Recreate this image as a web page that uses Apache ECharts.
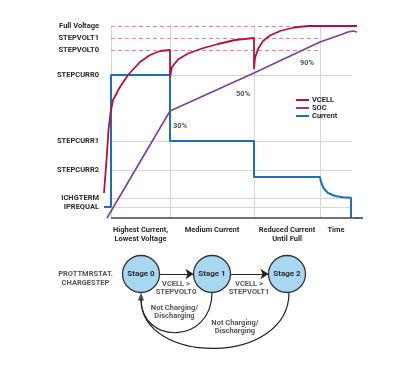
<!DOCTYPE html>
<html><head><meta charset="utf-8">
<script src="https://cdn.jsdelivr.net/npm/echarts@6/dist/echarts.min.js"></script>
<style>html,body{margin:0;padding:0;background:#fff}#c{width:420px;height:370px}</style>
</head><body><div id="c"></div>
<script>
// ---- data ----
const levelNames = ['Full Voltage', 'STEPVOLT1', 'STEPVOLT0', 'STEPCURR0', 'STEPCURR1', 'STEPCURR2', 'ICHGTERM', 'IPREQUAL'];
const levelValues = [192, 180, 168, 143, 77, 48, 20, 11];
const voltageLevels = [192, 180, 168];
const currentLevels = [143, 77, 48, 20, 11];
const phaseNames = ['Highest Current,\nLowest Voltage', 'Medium Current', 'Reduced Current\nUntil Full', 'Time'];
const phaseCenters = [29.5, 101, 176, 225];
const phaseBounds = [0, 59, 143, 209];
const timeEnd = 241;
const axisEnd = 252;
const vcell = [[-7,25],[-4.5,58],[-2.5,88],[-0.5,105],[2,118],[9,131],[17,143],[29,156],[39,163],[49,167],[59,168],
  [59,141],[61,151],[67,158.5],[77,164.5],[91,169.5],[107,174],[124,178],[143,180],
  [143,149],[144,160],[147,169],[152,177],[159,182.5],[169,187],[183,190.5],[197,192],[207,192],[246,192]];
const soc = [[-4,0],[59,107],[143,145],[209,176],[229,183],[237,186],[242,187],[246,186]];
const current = [[-7,11],[0,11],[0,143],[59,143],[59,77],[143,77],[143,41],[209,41],[210,36],[212.5,30],[217,25],[224,22],[232,20.7],[240,20.2],[240,0]];
const socMarks = ['30%', '50%', '90%'];
const socMarkPos = [[69,92],[132,124],[196,155]];
const seriesNames = ['VCELL', 'SOC', 'Current'];
const stages = ['Stage 0', 'Stage 1', 'Stage 2'];
const stepConditions = ['VCELL >\nSTEPVOLT0', 'VCELL >\nSTEPVOLT1'];
const resetLabel = 'Not Charging/\nDischarging';
const diagramTitle = 'PROTTMRSTAT.\nCHARGESTEP';

// ---- diagram layout (pixel grid) ----
const stageXY = [[141,274],[212,274],[287,274]];
const condXY = [[176,288],[249,288]];
const resetXY = [[174.5,312],[235,327]];
const titleXY = [85.5,278.5];
const arcRows = [[212,292.5,141,299,345],[289,292.5,141,299,366]];
const arrowTip = [141,296.5];

const colors = { vcell: '#b3123f', soc: '#7f3f98', current: '#1f6fb8', grid: '#d3d3dc', dash: '#d48aa0', text: '#2a2a2a' };
const font = 'Roboto, "Liberation Sans", sans-serif';
const txt = { fontFamily: font, fontWeight: 'bold', fontSize: 7.5, color: colors.text };

const labelMap = {};
levelValues.forEach((v, i) => labelMap[v] = levelNames[i]);
const phaseMap = {};
phaseCenters.forEach((v, i) => phaseMap[v] = phaseNames[i]);

const gridLines = [];
currentLevels.forEach(v => gridLines.push([{ coord: [0, v] }, { coord: [timeEnd, v] }]));
phaseBounds.forEach(x => gridLines.push([{ coord: [x, 0] }, { coord: [x, voltageLevels[0]] }]));
voltageLevels.forEach((v, i) => gridLines.push([
  { coord: [0, v], lineStyle: { color: colors.dash, type: [4, 3], width: 1 } },
  { coord: [i === 0 ? 246 : phaseBounds[3], v] }]));

const chart = echarts.init(document.getElementById('c'));
chart.setOption({
  animation: false,
  backgroundColor: '#fff',
  textStyle: { fontFamily: font },
  legend: {
    data: seriesNames, orient: 'vertical', left: 296, top: 96, padding: 0,
    itemGap: 0, itemWidth: 13, itemHeight: 2, icon: 'rect',
    textStyle: Object.assign({}, txt, { lineHeight: 8, padding: [0, 0, 0, -2] })
  },
  grid: [
    { left: 101, top: 26, width: 262, height: 192, outerBoundsMode: 'none' },
    { left: 0, top: 0, width: 420, height: 370, outerBoundsMode: 'none' }
  ],
  xAxis: [
    { type: 'value', min: -10, max: axisEnd, gridIndex: 0,
      axisLine: { show: false }, axisTick: { show: false }, splitLine: { show: false },
      axisLabel: Object.assign({}, txt, { customValues: phaseCenters, margin: 8, lineHeight: 8.5,
        formatter: v => phaseMap[v] || '' }) },
    { type: 'value', min: 0, max: 420, gridIndex: 1, show: false }
  ],
  yAxis: [
    { type: 'value', min: 0, max: 192, gridIndex: 0,
      axisLine: { show: false }, axisTick: { show: false }, splitLine: { show: false },
      axisLabel: Object.assign({}, txt, { customValues: levelValues, margin: 2, hideOverlap: false,
        formatter: v => labelMap[v] || '' }) },
    { type: 'value', min: 0, max: 370, inverse: true, gridIndex: 1, show: false }
  ],
  series: [
    { type: 'line', name: '_grid', data: [], silent: true,
      markLine: { z: 1, silent: true, symbol: ['none', 'none'], label: { show: false }, emphasis: { disabled: true },
        lineStyle: { color: colors.grid, width: 1, type: 'solid' }, data: gridLines } },
    { type: 'line', name: '_axis', data: [], silent: true,
      markLine: { z: 6, silent: true, symbol: ['none', 'arrow'], symbolSize: [1, 9], label: { show: false }, emphasis: { disabled: true },
        lineStyle: { color: '#444', width: 1.5, type: 'solid' },
        data: [[{ coord: [0, 0] }, { coord: [axisEnd, 0] }]] } },
    { type: 'line', name: 'Current', data: current, showSymbol: false, symbol: 'none', z: 3,
      itemStyle: { color: colors.current }, lineStyle: { color: colors.current, width: 2 } },
    { type: 'line', name: 'SOC', data: soc, showSymbol: false, symbol: 'none', z: 4,
      itemStyle: { color: colors.soc }, lineStyle: { color: colors.soc, width: 1.6 } },
    { type: 'line', name: 'VCELL', data: vcell, showSymbol: false, symbol: 'none', z: 5,
      itemStyle: { color: colors.vcell }, lineStyle: { color: colors.vcell, width: 1.8 } },
    { type: 'scatter', name: '_pct', symbolSize: 0, silent: true, z: 6,
      data: socMarks.map((s, i) => ({ name: s, value: socMarkPos[i] })),
      label: Object.assign({ show: true, position: 'inside', formatter: '{b}' }, txt) },
    // ---- state diagram ----
    { type: 'custom', name: '_arcs', xAxisIndex: 1, yAxisIndex: 1, silent: true, data: arcRows, z: 2,
      renderItem: function (params, api) {
        const p0 = api.coord([api.value(0), api.value(1)]);
        const p3 = api.coord([api.value(2), api.value(3)]);
        const cy = api.coord([0, api.value(4)])[1];
        return { type: 'bezierCurve',
          shape: { x1: p0[0], y1: p0[1], x2: p3[0], y2: p3[1], cpx1: p0[0], cpy1: cy, cpx2: p3[0], cpy2: cy },
          style: { stroke: '#222', lineWidth: 1.2, fill: 'none' } };
      } },
    { type: 'scatter', name: '_tip', xAxisIndex: 1, yAxisIndex: 1, silent: true, z: 3,
      symbol: 'triangle', symbolSize: [6, 8], itemStyle: { color: '#222' }, data: [arrowTip] },
    { type: 'graph', name: '_stages', coordinateSystem: 'cartesian2d', xAxisIndex: 1, yAxisIndex: 1, silent: true, z: 4,
      symbol: 'circle', symbolSize: 37,
      itemStyle: { color: '#a8d7f2', borderColor: '#333', borderWidth: 1.3 },
      label: Object.assign({ show: true, position: 'inside' }, txt, { fontSize: 8 }),
      edgeSymbol: ['none', 'arrow'], edgeSymbolSize: 8,
      lineStyle: { color: '#222', width: 1.2, opacity: 1 },
      data: stages.map((s, i) => ({ name: s, value: stageXY[i] })),
      links: [{ source: stages[0], target: stages[1] }, { source: stages[1], target: stages[2] }] },
    { type: 'scatter', name: '_notes', xAxisIndex: 1, yAxisIndex: 1, symbolSize: 0, silent: true, z: 6,
      data: [
        { name: diagramTitle, value: titleXY },
        { name: stepConditions[0], value: condXY[0] },
        { name: stepConditions[1], value: condXY[1] },
        { name: resetLabel, value: resetXY[0] },
        { name: resetLabel, value: resetXY[1] }
      ],
      label: Object.assign({ show: true, position: 'inside', formatter: '{b}', lineHeight: 8.5, align: 'center' }, txt) }
  ]
});
</script></body></html>
